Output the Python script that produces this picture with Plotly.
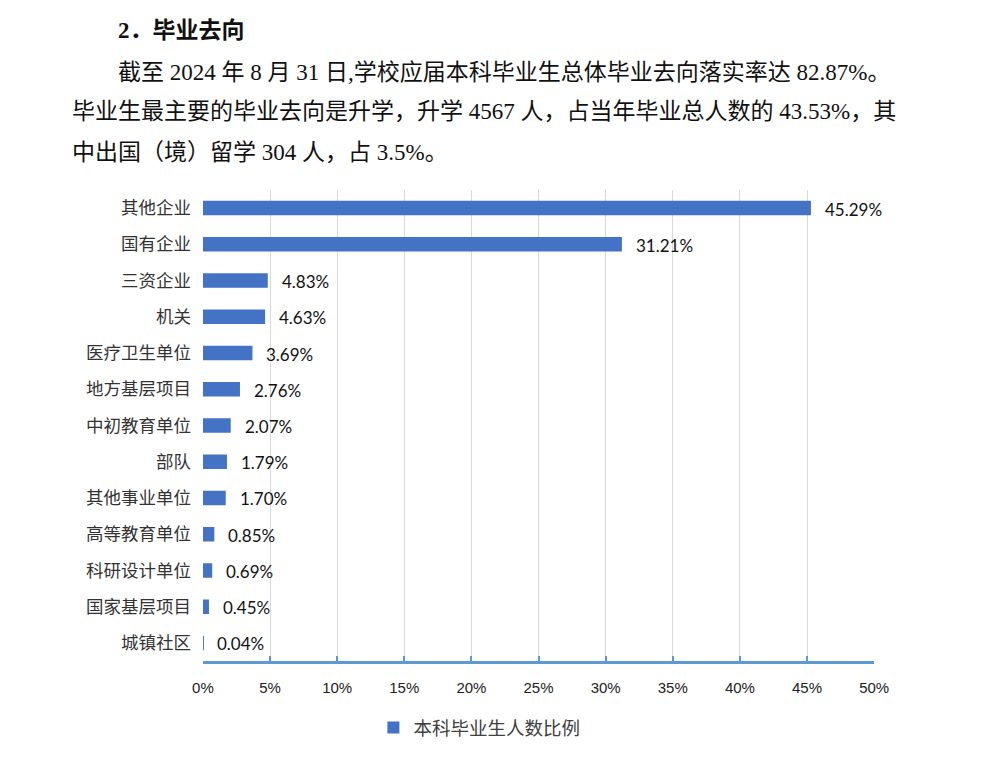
import plotly.graph_objects as go

categories = ["其他企业", "国有企业", "三资企业", "机关", "医疗卫生单位", "地方基层项目",
              "中初教育单位", "部队", "其他事业单位", "高等教育单位", "科研设计单位",
              "国家基层项目", "城镇社区"]
values = [45.29, 31.21, 4.83, 4.63, 3.69, 2.76, 2.07, 1.79, 1.70, 0.85, 0.69, 0.45, 0.04]
value_labels = ["45.29%", "31.21%", "4.83%", "4.63%", "3.69%", "2.76%", "2.07%",
                "1.79%", "1.70%", "0.85%", "0.69%", "0.45%", "0.04%"]
tick_vals = [0, 5, 10, 15, 20, 25, 30, 35, 40, 45, 50]
tick_text = ["0%", "5%", "10%", "15%", "20%", "25%", "30%", "35%", "40%", "45%", "50%"]
series_name = "本科毕业生人数比例"

heading = "2．毕业去向"
para = [
    "截至 2024 年 8 月 31 日,学校应届本科毕业生总体毕业去向落实率达 82.87%。",
    "毕业生最主要的毕业去向是升学，升学 4567 人，占当年毕业总人数的 43.53%，其",
    "中出国（境）留学 304 人，占 3.5%。",
]

W, H = 1008, 770
BAR = "#4472C4"
AXIS = "#5B9BD5"
CJK = "Liberation Serif, Noto Sans CJK SC, serif"
LBL = "Lato, Open Sans, sans-serif"

fig = go.Figure()
fig.add_trace(go.Bar(
    y=categories, x=values, orientation="h", name=series_name,
    marker=dict(color=BAR, line=dict(width=0)), width=0.4, showlegend=True,
))

# data labels
for c, v, t in zip(categories, values, value_labels):
    fig.add_annotation(x=v, y=c, xref="x", yref="y", text=t, showarrow=False,
                       xanchor="left", xshift=12, yshift=-1,
                       font=dict(family=LBL, size=17, color="#111111"))

# heading & paragraph
fig.add_annotation(x=108 / W, y=1 - 30 / H, xref="paper", yref="paper", text=heading,
                   showarrow=False, xanchor="left", yanchor="middle",
                   font=dict(family="Liberation Serif, Noto Sans CJK SC", size=23,
                             color="#111111", weight="bold"))
para_x = [108, 61, 61]
para_y = [72, 111, 152]
for t, px, py in zip(para, para_x, para_y):
    fig.add_annotation(x=px / W, y=1 - py / H, xref="paper", yref="paper", text=t,
                       showarrow=False, xanchor="left", yanchor="middle",
                       font=dict(family=CJK, size=23, color="#111111"))

fig.update_layout(
    width=W, height=H, autosize=False,
    margin=dict(l=0, r=0, t=0, b=0),
    paper_bgcolor="white", plot_bgcolor="white",
    xaxis=dict(domain=[197 / W, 886 / W], range=[0, 50], tickvals=tick_vals,
               ticktext=tick_text, showgrid=True, gridcolor="#D9D9D9", gridwidth=1,
               zeroline=False, showline=True, linecolor=AXIS, linewidth=3,
               ticks="inside", ticklen=5, tickwidth=2, tickcolor=AXIS,
               ticklabelstandoff=11,
               tickfont=dict(family="Liberation Sans Narrow, Arial Narrow, Liberation Sans", size=15, color="#222222"),
               fixedrange=True),
    yaxis=dict(domain=[1 - 661 / H, 1 - 190 / H], autorange="reversed",
               showgrid=False, showline=False, ticks="", ticklabelstandoff=11,
               tickfont=dict(family="Noto Sans CJK SC", size=17.5, color="#333333")),
    legend=dict(orientation="h", x=372 / W, xanchor="left", y=1 - 728 / H,
                yanchor="middle", font=dict(family="Noto Sans CJK SC", size=18.5, color="#404040"),
                itemwidth=30, bgcolor="rgba(0,0,0,0)"),
)

fig.write_html("out.html", config={"responsive": False, "displayModeBar": False},
               post_script="document.body.style.margin='0';document.body.style.overflow='hidden';")
